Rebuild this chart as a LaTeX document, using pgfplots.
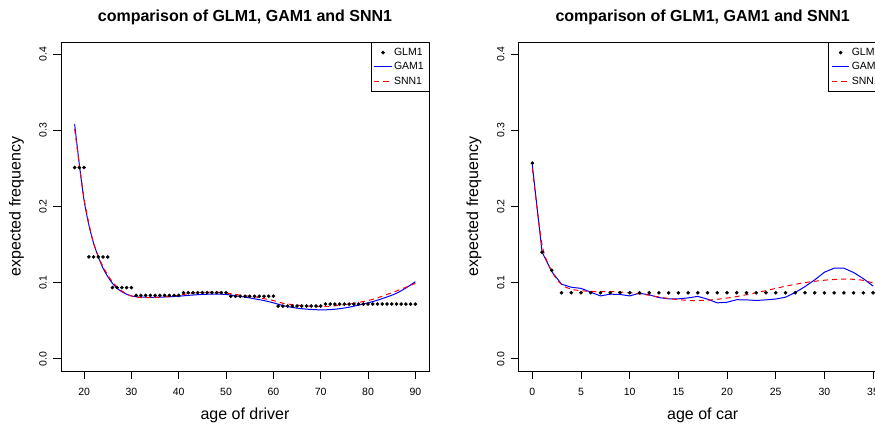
\documentclass[border=0pt]{standalone}
\usepackage{fontspec}
\setmainfont{Liberation Sans}
\usepackage{pgfplots}
\pgfplotsset{compat=1.18}
\definecolor{rblue}{RGB}{0,0,255}
\definecolor{rred}{RGB}{255,0,0}
\pgfplotsset{
  rstyle/.style={
    scale only axis, width=368pt, height=329pt,
    ymin=-0.016, ymax=0.416,
    ytick={0,0.1,0.2,0.3,0.4},
    axis line style={line width=0.8pt},
    every tick/.style={line width=0.8pt, black},
    major tick length=7.5pt, tick align=outside,
    xtick pos=left, ytick pos=left,
    /pgf/number format/assume math mode=true,
    tick label style={font=\fontsize{10.5}{12}\selectfont},
    yticklabel style={rotate=90, anchor=base, /pgf/number format/fixed, /pgf/number format/precision=1, /pgf/number format/fixed zerofill},
    xticklabel style={anchor=base},
    yticklabel shift=6.8pt,
    xticklabel shift=17.2pt,
    every axis title shift=0pt,
    title style={font=\fontsize{16}{19}\selectfont\bfseries, at={(axis description cs:0.5,1.0623)}, anchor=base},
    xlabel style={font=\fontsize{16}{19}\selectfont, at={(axis description cs:0.5,-0.1459)}, anchor=base},
    ylabel style={font=\fontsize{16}{19}\selectfont, at={(axis description cs:-0.110,0.5)}, anchor=base},
    legend style={at={(1,1)}, anchor=north east, draw=black,
      font=\fontsize{10.5}{13}\selectfont, inner xsep=3pt, inner ysep=4pt, row sep=1.5pt},
    legend cell align=left,
  },
}
\begin{document}
\begin{tikzpicture}
\useasboundingbox (0,0) rectangle (875pt,426pt);
\clip (0,0) rectangle (875pt,426pt);
% ---------------- left panel
\begin{axis}[rstyle, at={(61pt,55pt)}, anchor=south west,
  xmin=15.12, xmax=92.88, xtick={20,30,...,90},
  title={comparison of GLM1, GAM1 and SNN1},
  xlabel={age of driver}, ylabel={expected frequency}]
\addplot[only marks, mark=*, mark size=1.6pt, black] coordinates {
(18,0.2512)(19,0.2512)(20,0.2512)
(21,0.1338)(22,0.1338)(23,0.1338)(24,0.1338)(25,0.1338)
(26,0.0935)(27,0.0935)(28,0.0935)(29,0.0935)(30,0.0935)
(31,0.0833)(32,0.0833)(33,0.0833)(34,0.0833)(35,0.0833)(36,0.0833)(37,0.0833)(38,0.0833)(39,0.0833)(40,0.0833)
(41,0.0868)(42,0.0868)(43,0.0868)(44,0.0868)(45,0.0868)(46,0.0868)(47,0.0868)(48,0.0868)(49,0.0868)(50,0.0868)
(51,0.0822)(52,0.0822)(53,0.0822)(54,0.0822)(55,0.0822)(56,0.0822)(57,0.0822)(58,0.0822)(59,0.0822)(60,0.0822)
(61,0.0693)(62,0.0693)(63,0.0693)(64,0.0693)(65,0.0693)(66,0.0693)(67,0.0693)(68,0.0693)(69,0.0693)(70,0.0693)
(71,0.0719)(72,0.0719)(73,0.0719)(74,0.0719)(75,0.0719)(76,0.0719)(77,0.0719)(78,0.0719)(79,0.0719)(80,0.0719)
(81,0.0719)(82,0.0719)(83,0.0719)(84,0.0719)(85,0.0719)(86,0.0719)(87,0.0719)(88,0.0719)(89,0.0719)(90,0.0719)
};
\addlegendentry{GLM1}
\addplot[color=rblue, line width=1pt, smooth] coordinates {
(18,0.308)(19,0.255)(20,0.208)(21,0.176)(22,0.152)(23,0.134)(24,0.119)(25,0.108)
(26,0.099)(27,0.0925)(28,0.0880)(29,0.0848)(30,0.0826)(31,0.0815)(32,0.0810)
(34,0.0808)(36,0.0810)(38,0.0815)(40,0.0822)(42,0.0833)(44,0.0842)(46,0.0848)
(48,0.0850)(50,0.0845)(52,0.0828)(54,0.0810)(56,0.0788)(58,0.0765)(60,0.0735)
(62,0.0700)(64,0.0675)(66,0.0658)(68,0.0648)(70,0.0643)(72,0.0646)(74,0.0658)
(76,0.0678)(78,0.0705)(80,0.0735)(82,0.0770)(84,0.0812)(86,0.0860)(88,0.0930)(90,0.1012)
};
\addlegendentry{GAM1}
\addplot[color=rred, line width=1pt, smooth, dash pattern=on 5pt off 4pt] coordinates {
(18,0.302)(19,0.255)(20,0.210)(21,0.178)(22,0.152)(23,0.135)(24,0.121)(25,0.110)
(26,0.101)(27,0.094)(28,0.089)(29,0.085)(30,0.0825)(31,0.081)(32,0.0805)(33,0.0803)
(34,0.0803)(35,0.0805)(36,0.081)(38,0.082)(40,0.0835)(42,0.0855)(44,0.087)(46,0.0875)
(48,0.0875)(50,0.0865)(52,0.0845)(54,0.0828)(56,0.0815)(58,0.079)(60,0.0765)(62,0.073)
(64,0.0712)(66,0.070)(68,0.069)(70,0.0685)(72,0.069)(74,0.0705)(76,0.072)(78,0.074)
(80,0.0765)(82,0.080)(84,0.0845)(86,0.089)(88,0.094)(90,0.099)
};
\addlegendentry{SNN1}
\end{axis}
% ---------------- right panel
\begin{axis}[rstyle, at={(518.7pt,55pt)}, anchor=south west,
  xmin=-1.4, xmax=36.4, xtick={0,5,...,35},
  title={comparison of GLM1, GAM1 and SNN1},
  xlabel={age of car}, ylabel={expected frequency}]
\addplot[only marks, mark=*, mark size=1.6pt, black] coordinates {
(0,0.257)(1,0.140)(2,0.1163)
(3,0.0867)(4,0.0867)(5,0.0867)(6,0.0867)(7,0.0867)(8,0.0867)(9,0.0867)(10,0.0867)
(11,0.0867)(12,0.0867)(13,0.0867)(14,0.0867)(15,0.0867)(16,0.0867)(17,0.0867)(18,0.0867)
(19,0.0867)(20,0.0867)(21,0.0867)(22,0.0867)(23,0.0867)(24,0.0867)(25,0.0867)(26,0.0867)
(27,0.0867)(28,0.0867)(29,0.0867)(30,0.0867)(31,0.0867)(32,0.0867)(33,0.0867)(34,0.0867)(35,0.0867)
};
\addlegendentry{GLM1}
\addplot[color=rblue, line width=1pt] coordinates {
(0,0.2544)(1,0.140)(2,0.1145)(3,0.098)(4,0.094)(5,0.0925)(6,0.0875)(7,0.0826)
(8,0.0849)(9,0.0845)(10,0.0826)(11,0.0861)(12,0.0840)(13,0.0804)(14,0.0787)(15,0.0787)
(16,0.0800)(17,0.0820)(18,0.0783)(19,0.0735)(20,0.0743)(21,0.0776)(22,0.0774)(23,0.0766)
(24,0.0774)(25,0.0785)(26,0.0809)(27,0.0870)(28,0.0948)(29,0.1036)(30,0.1137)(31,0.1190)
(32,0.1190)(33,0.1133)(34,0.1053)(35,0.0955)
};
\addlegendentry{GAM1}
\addplot[color=rred, line width=1pt, smooth, dash pattern=on 5pt off 4pt] coordinates {
(0,0.250)(1,0.150)(2,0.115)(3,0.0975)(4,0.0915)(5,0.0895)(6,0.0885)(7,0.0882)(8,0.0882)
(9,0.0878)(10,0.0868)(11,0.0852)(12,0.0835)(13,0.0812)(14,0.0792)(15,0.0777)(16,0.0768)
(17,0.0765)(18,0.0770)(19,0.0782)(20,0.0798)(21,0.0818)(22,0.0842)(23,0.0868)(24,0.0895)
(25,0.0925)(26,0.0953)(27,0.0978)(28,0.1000)(29,0.1018)(30,0.1032)(31,0.1042)(32,0.1046)
(33,0.1044)(34,0.1030)(35,0.0995)
};
\addlegendentry{SNN1}
\end{axis}
\end{tikzpicture}
\end{document}
